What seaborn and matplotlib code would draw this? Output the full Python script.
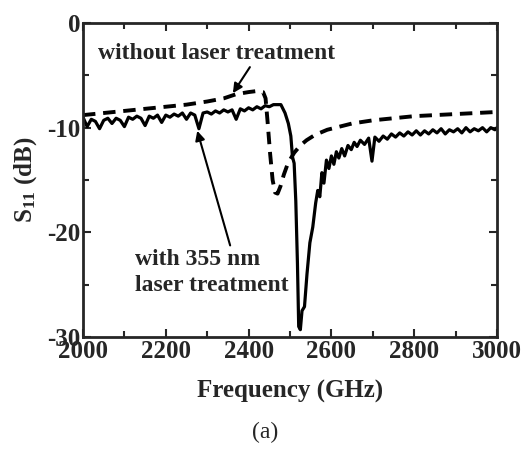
import numpy as np
import pandas as pd
import matplotlib
matplotlib.use("Agg")
import matplotlib.pyplot as plt
import seaborn as sns

# ---- data ----
freq_laser = [2000, 2010, 2020, 2030, 2040, 2050, 2060, 2070, 2080, 2090,
              2100, 2110, 2120, 2130, 2140, 2150, 2160, 2170, 2180, 2190,
              2200, 2210, 2220, 2230, 2240, 2250, 2260, 2270, 2280, 2290,
              2300, 2310, 2320, 2330, 2340, 2350, 2360, 2370, 2380, 2390,
              2400, 2410, 2420, 2430, 2440, 2450, 2460, 2470,
              2478, 2488, 2496, 2502, 2506, 2510, 2514, 2518, 2521, 2525,
              2529, 2535, 2541, 2548, 2555, 2562, 2567, 2572, 2577, 2582,
              2588, 2594, 2600, 2606, 2612, 2618, 2625, 2632, 2640, 2648,
              2655, 2662, 2670, 2680, 2690, 2698, 2705, 2715, 2725, 2735,
              2745, 2755, 2765, 2775, 2785, 2795, 2805, 2815, 2825, 2835,
              2845, 2855, 2865, 2875, 2885, 2895, 2905, 2915, 2925, 2935,
              2945, 2955, 2965, 2975, 2985, 2995, 3000]
s11_laser = [-9.0, -9.9, -9.2, -9.4, -10.1, -9.3, -9.1, -9.6, -9.1, -9.3,
             -9.9, -9.0, -9.2, -8.9, -9.1, -9.8, -8.9, -9.1, -8.8, -9.5,
             -8.8, -9.0, -8.7, -8.9, -8.6, -9.2, -8.6, -8.8, -10.1, -8.6,
             -8.5, -8.7, -8.4, -8.6, -8.3, -8.5, -8.3, -9.2, -8.2, -8.4,
             -8.1, -8.3, -8.0, -8.2, -7.9, -8.0, -7.8, -7.8,
             -7.8, -8.6, -9.6, -10.8, -12.8, -13.4, -17.0, -23.0, -29.0, -29.3,
             -27.5, -27.1, -24.0, -21.0, -19.5, -17.2, -16.0, -16.6, -14.3, -15.3,
             -13.1, -13.9, -12.7, -13.5, -12.3, -12.9, -12.0, -12.7, -11.7, -12.1,
             -11.4, -11.8, -11.2, -11.6, -11.0, -13.2, -10.9, -11.3, -10.8, -11.1,
             -10.6, -10.9, -10.5, -10.8, -10.4, -10.7, -10.3, -10.7, -10.3, -10.6,
             -10.2, -10.5, -10.1, -10.6, -10.2, -10.4, -10.1, -10.5, -10.0, -10.4,
             -10.1, -10.3, -10.0, -10.4, -10.0, -10.2, -10.0]

freq_nolaser = [2000, 2050, 2100, 2150, 2200, 2250, 2300, 2340, 2370, 2400,
                2420, 2435, 2441, 2446, 2452, 2458, 2464, 2470, 2477, 2485,
                2495, 2510, 2525, 2540, 2560, 2590, 2620, 2650, 2700, 2750,
                2800, 2850, 2900, 2950, 3000]
s11_nolaser = [-8.8, -8.6, -8.4, -8.2, -8.0, -7.8, -7.5, -7.2, -6.8, -6.6,
               -6.5, -6.6, -7.2, -9.5, -12.5, -15.0, -16.2, -16.3, -15.6, -14.5,
               -13.4, -12.4, -11.7, -11.2, -10.7, -10.2, -9.9, -9.6, -9.3, -9.1,
               -8.9, -8.8, -8.7, -8.6, -8.5]

x_ticks = [2000, 2200, 2400, 2600, 2800, 3000]
y_ticks = [0, -10, -20, -30]

df_laser = pd.DataFrame({"f": freq_laser, "s": s11_laser})
df_nolaser = pd.DataFrame({"f": freq_nolaser, "s": s11_nolaser})

sns.set_style("ticks")
plt.rcParams["font.family"] = ["Liberation Serif", "DejaVu Serif"]
plt.rcParams["mathtext.fontset"] = "custom"
plt.rcParams["mathtext.rm"] = "Liberation Serif:bold"
plt.rcParams["mathtext.bf"] = "Liberation Serif:bold"
plt.rcParams["mathtext.it"] = "Liberation Serif:bold"

fig = plt.figure(figsize=(5.31, 4.5), dpi=100)
ax = fig.add_axes([83 / 531, 1 - 337 / 450, (497 - 83) / 531, (337 - 23) / 450])

sns.lineplot(data=df_nolaser, x="f", y="s", ax=ax, color="black", lw=2.8,
             linestyle=(0, (3.2, 2.0)), estimator=None, sort=False)
sns.lineplot(data=df_laser, x="f", y="s", ax=ax, color="black", lw=2.3,
             estimator=None, sort=False)

ax.set_xlim(2000, 3000)
ax.set_ylim(-30, 0)
ax.set_xticks(x_ticks)
ax.set_yticks(y_ticks)
ax.set_xticks(np.arange(2100, 3000, 200), minor=True)
ax.set_yticks([-5, -15, -25], minor=True)
ax.set_xticklabels([str(t) for t in x_ticks], fontsize=18, fontweight="bold")
ax.set_yticklabels([str(t) for t in y_ticks], fontsize=18, fontweight="bold")
ax.tick_params(which="both", direction="in", top=True, right=True, width=1.5, pad=2)
ax.tick_params(which="major", length=6)
ax.tick_params(which="minor", length=4)
for sp in ax.spines.values():
    sp.set_linewidth(2)
    sp.set_visible(True)

ax.set_xlabel("Frequency (GHz)", fontsize=18, fontweight="bold", labelpad=12)
ax.set_ylabel("S$_{11}$ (dB)", fontsize=18, fontweight="bold", labelpad=6)

ax.annotate("without laser treatment", xy=(2362, -6.7), xytext=(2036, -2.9),
            fontsize=17, fontweight="bold", va="center", ha="left",
            arrowprops=dict(arrowstyle="-|>", color="black", lw=1.5,
                            shrinkA=0, shrinkB=0, mutation_scale=14,
                            relpos=(0.65, 0.0)))
ax.annotate("with 355 nm\nlaser treatment", xy=(2276, -10.3), xytext=(2126, -23.8),
            fontsize=17, fontweight="bold", va="center", ha="left", linespacing=1.3,
            arrowprops=dict(arrowstyle="-|>", color="black", lw=1.5,
                            shrinkA=0, shrinkB=0, mutation_scale=14,
                            relpos=(0.62, 1.05)))

fig.text(265 / 531, 1 - 432 / 450, "(a)", fontsize=17, ha="center", va="center")

fig.savefig("out.png", dpi=100)
